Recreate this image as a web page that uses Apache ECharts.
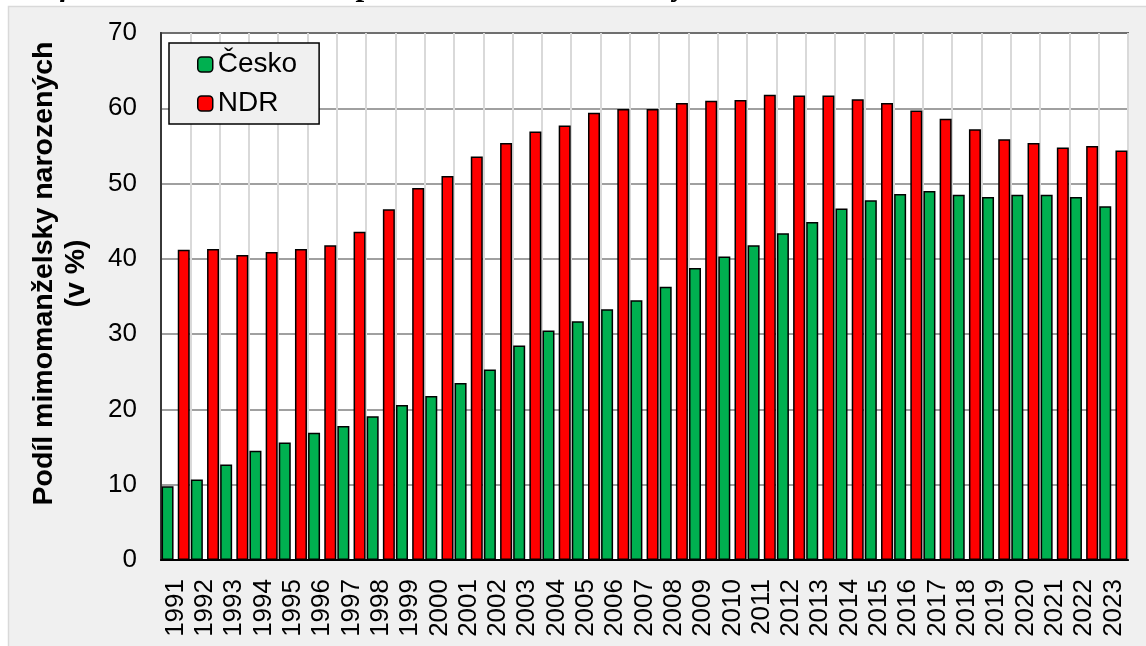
<!DOCTYPE html>
<html>
<head>
<meta charset="utf-8">
<script src="https://cdn.jsdelivr.net/npm/echarts@6/dist/echarts.min.js"></script>
<style>
html,body{margin:0;padding:0;background:#fff;}
#c{width:1146px;height:646px;}
</style>
</head>
<body>
<div id="c"></div>
<script>
const titleText = 'Graf 10 – Mimomanželská plodnost, Česko, území bývalé NDR, 1991–2023';
const yAxisName = 'Podíl mimomanželsky narozených\n(v %)';
const seriesNames = ['Česko', 'NDR'];
const years = ['1991','1992','1993','1994','1995','1996','1997','1998','1999','2000',
  '2001','2002','2003','2004','2005','2006','2007','2008','2009','2010',
  '2011','2012','2013','2014','2015','2016','2017','2018','2019','2020',
  '2021','2022','2023'];
const cesko = [9.8,10.7,12.7,14.5,15.6,16.9,17.8,19.1,20.6,21.8,
  23.5,25.3,28.5,30.5,31.7,33.3,34.5,36.3,38.8,40.3,
  41.8,43.4,44.9,46.7,47.8,48.6,49.0,48.5,48.2,48.5,
  48.5,48.2,47.0];
const ndr = [41.2,41.3,40.5,40.9,41.3,41.8,43.6,46.6,49.4,51.0,
  53.6,55.4,56.9,57.7,59.4,59.9,59.9,60.7,61.0,61.1,
  61.8,61.7,61.7,61.2,60.7,59.7,58.6,57.2,55.9,55.4,
  54.8,55.0,54.4];
const yTicks = [0,10,20,30,40,50,60,70];

const FONT = "'Liberation Sans', Arial, sans-serif";
const chart = echarts.init(document.getElementById('c'), null, {renderer:'canvas'});
chart.setOption({
  animation: false,
  backgroundColor: '#ffffff',
  textStyle: {fontFamily: FONT},
  graphic: [
    {type:'rect', z:-100, silent:true,
     shape:{x:8.5, y:6.5, width:1146, height:646},
     style:{fill:'#f0f0f0', stroke:'#d9d9d9', lineWidth:1.5}},
    {type:'text', z:-50, silent:true, left: 10, top: -29,
     style:{text:titleText, fill:'#000', fontFamily:"'Liberation Serif','Times New Roman',serif",
            fontStyle:'italic', fontWeight:'bold', fontSize:31}}
  ],
  grid: {left:161, right:18, top:33, bottom:86, show:true,
         backgroundColor:'#ffffff', borderColor:'#000', borderWidth:1.5},
  legend: {
    orient:'vertical', left:169, top:43,
    padding:[6, 22, 5, 28], itemGap:8,
    itemWidth:15, itemHeight:15,
    backgroundColor:'#f0f0f0', borderColor:'#000', borderWidth:1.5,
    itemStyle:{borderColor:'#000', borderWidth:1.5},
    textStyle:{fontSize:28, color:'#000', fontFamily:FONT, lineHeight:31},
    data: seriesNames
  },
  xAxis: {
    type:'category', data: years, boundaryGap:true,
    axisLine:{show:true, lineStyle:{color:'#000', width:2}},
    axisTick:{show:false},
    splitLine:{show:true, interval:0, lineStyle:{color:'#d9d9d9', width:2}},
    axisLabel:{interval:0, rotate:90, margin:19, fontSize:26, color:'#000', fontFamily:FONT}
  },
  yAxis: {
    type:'value', min: yTicks[0], max: yTicks[yTicks.length-1], interval: 10,
    name: yAxisName, nameLocation:'middle', nameRotate:90, nameGap:69,
    nameTextStyle:{fontSize:28.5, fontWeight:'bold', color:'#000', fontFamily:FONT,
                   lineHeight:32, padding:[0,0,0,46]},
    axisLine:{show:true, lineStyle:{color:'#000', width:1.5}},
    axisTick:{show:false},
    splitLine:{show:true, lineStyle:{color:'#808080', width:1.5}},
    axisLabel:{margin:24, fontSize:26, color:'#000', fontFamily:FONT}
  },
  series: [
    {name:seriesNames[0], type:'bar', data:cesko, barWidth:12, barGap:'35%',
     itemStyle:{color:'#00b050', borderColor:'#000', borderWidth:1.5}},
    {name:seriesNames[1], type:'bar', data:ndr, barWidth:12, barGap:'35%',
     itemStyle:{color:'#ff0000', borderColor:'#000', borderWidth:1.5}}
  ]
});
</script>
</body>
</html>
